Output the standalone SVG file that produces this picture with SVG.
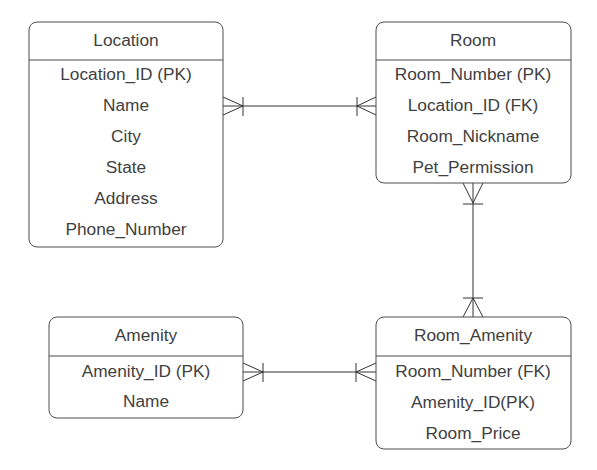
<svg xmlns="http://www.w3.org/2000/svg" width="597" height="470" viewBox="0 0 597 470">
<style>
.box{fill:#fff;stroke:#4d4d4d;stroke-width:1}
.sep{stroke:#4d4d4d;stroke-width:1}
text{font-family:"Liberation Sans",Arial,sans-serif;font-size:17.3px;fill:#3f3f3f;text-anchor:middle;dominant-baseline:central}
.c{fill:none;stroke:#333;stroke-width:1}
</style>
<rect width="597" height="470" fill="#fff"/>
<g id="connectors">
<path class="c" d="M223,106 H376"/>
<path class="c" d="M223,97 L243,106 L223,115 M243,97 V116"/>
<path class="c" d="M376,97 L357,106 L376,115 M357,97 V116"/>
<path class="c" d="M473,183 V317"/>
<path class="c" d="M463,183 L473,203 L483,183 M463,204 H483"/>
<path class="c" d="M463,317 L473,298 L483,317 M463,298 H483"/>
<path class="c" d="M243,372 H376"/>
<path class="c" d="M243,363 L263,372 L243,381 M263,363 V382"/>
<path class="c" d="M376,363 L356,372 L376,381 M356,363 V382"/>
</g>
<g id="location">
<rect class="box" x="29" y="22" width="194" height="225" rx="8"/>
<line class="sep" x1="29" y1="60" x2="223" y2="60"/>
<text x="126" y="40">Location</text>
<text x="126" y="74">Location_ID (PK)</text>
<text x="126" y="105">Name</text>
<text x="126" y="136">City</text>
<text x="126" y="167">State</text>
<text x="126" y="198">Address</text>
<text x="126" y="229">Phone_Number</text>
</g>
<g id="room">
<rect class="box" x="376" y="22" width="195" height="161" rx="8"/>
<line class="sep" x1="376" y1="60" x2="571" y2="60"/>
<text x="473" y="40">Room</text>
<text x="473" y="74">Room_Number (PK)</text>
<text x="473" y="105">Location_ID (FK)</text>
<text x="473" y="136">Room_Nickname</text>
<text x="473" y="167">Pet_Permission</text>
</g>
<g id="amenity">
<rect class="box" x="49" y="317" width="194" height="101" rx="8"/>
<line class="sep" x1="49" y1="356" x2="243" y2="356"/>
<text x="146" y="335">Amenity</text>
<text x="146" y="371">Amenity_ID (PK)</text>
<text x="146" y="401">Name</text>
</g>
<g id="room_amenity">
<rect class="box" x="376" y="317" width="195" height="132" rx="8"/>
<line class="sep" x1="376" y1="356" x2="571" y2="356"/>
<text x="473" y="335">Room_Amenity</text>
<text x="473" y="371">Room_Number (FK)</text>
<text x="473" y="402">Amenity_ID(PK)</text>
<text x="473" y="433">Room_Price</text>
</g>
</svg>
